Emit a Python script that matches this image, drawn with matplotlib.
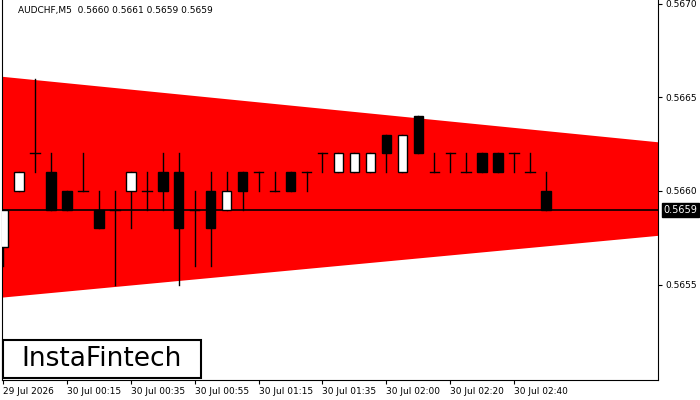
import matplotlib
matplotlib.use("Agg")
import matplotlib.pyplot as plt
from matplotlib.patches import Rectangle, Polygon

opens  = [0.5657,0.5660,0.5662,0.5661,0.5660,0.5660,0.5659,0.5659,0.5660,0.5660,0.5661,0.5661,0.5659,0.5660,0.5659,0.5661,0.5661,0.5660,0.5661,0.5661,0.5662,
          0.5661,0.5661,0.5661,0.5663,0.5661,0.5664,0.5661,0.5662,0.5661,0.5662,0.5662,0.5662,0.5661,0.5660]
closes = [0.5659,0.5661,0.5662,0.5659,0.5659,0.5660,0.5658,0.5659,0.5661,0.5660,0.5660,0.5658,0.5659,0.5658,0.5660,0.5660,0.5661,0.5660,0.5660,0.5661,0.5662,
          0.5662,0.5662,0.5662,0.5662,0.5663,0.5662,0.5661,0.5662,0.5661,0.5661,0.5661,0.5662,0.5661,0.5659]
highs  = [0.5659,0.5661,0.5666,0.5662,0.5660,0.5662,0.5660,0.5660,0.5661,0.5661,0.5662,0.5662,0.5660,0.5661,0.5661,0.5661,0.5661,0.5661,0.5661,0.5661,0.5662,
          0.5662,0.5662,0.5662,0.5663,0.5663,0.5664,0.5662,0.5662,0.5662,0.5662,0.5662,0.5662,0.5662,0.5661]
lows   = [0.5656,0.5660,0.5661,0.5659,0.5659,0.5660,0.5658,0.5655,0.5658,0.5659,0.5659,0.5655,0.5656,0.5656,0.5659,0.5659,0.5660,0.5660,0.5660,0.5660,0.5661,
          0.5661,0.5661,0.5661,0.5661,0.5661,0.5662,0.5661,0.5661,0.5661,0.5661,0.5661,0.5661,0.5661,0.5659]
tri_x = [-0.06, 41.0]
tri_upper = [0.56661, 0.56626]
tri_lower = [0.56543, 0.56576]
tick_idx = [0, 4, 8, 12, 16, 20, 24, 28, 32]
tick_labels = ["29 Jul 2026","30 Jul 00:15","30 Jul 00:35","30 Jul 00:55","30 Jul 01:15",
               "30 Jul 01:35","30 Jul 02:00","30 Jul 02:20","30 Jul 02:40"]
yticks = [0.5655, 0.5660, 0.5665, 0.5670]
last = 0.5659

fig = plt.figure(figsize=(7, 4), dpi=100)
ax = fig.add_axes([2/700, 20/400, 656/700, 380/400])
ax.set_xlim(tri_x[0], tri_x[1])
ax.set_ylim(0.56499, 0.56702)

ax.add_patch(Polygon([(tri_x[0], tri_upper[0]), (tri_x[1], tri_upper[1]),
                      (tri_x[1], tri_lower[1]), (tri_x[0], tri_lower[0])],
                     closed=True, facecolor="#ff0000", edgecolor="none", zorder=1))
ax.axhline(last, color="black", lw=1.2, zorder=2)

w = 0.6
for i, (o, c, h, l) in enumerate(zip(opens, closes, highs, lows)):
    ax.plot([i, i], [l, h], color="black", lw=1, zorder=3)
    if o == c:
        ax.plot([i - w/2, i + w/2], [o, o], color="black", lw=1, zorder=3)
    else:
        fc = "white" if c > o else "black"
        ax.add_patch(Rectangle((i - w/2, min(o, c)), w, abs(c - o), facecolor=fc,
                               edgecolor="black", lw=1, zorder=4))

ax.yaxis.tick_right()
ax.set_yticks(yticks)
ax.set_yticklabels([f"{v:.4f}" for v in yticks], fontsize=6.5)
ax.set_xticks(tick_idx)
ax.set_xticklabels(tick_labels, fontsize=6.5, ha="left")
ax.tick_params(axis="x", length=3, pad=2)
ax.tick_params(axis="y", length=3, pad=2)
ax.spines["top"].set_visible(False)

ax.annotate(f"{last:.4f}", xy=(1, last), xycoords=("axes fraction", "data"),
            xytext=(4, 0), textcoords="offset points", fontsize=7, color="white",
            va="center", ha="left",
            bbox=dict(boxstyle="square,pad=0.2", fc="black", ec="black"))

fig.text(18/700, 1 - 10/400, "AUDCHF,M5  0.5660 0.5661 0.5659 0.5659", fontsize=6.5, va="center")
fig.patches.append(Rectangle((3/700, 1 - 378/400), 198/700, 38/400, transform=fig.transFigure,
                             facecolor="white", edgecolor="black", lw=1.5, zorder=5))
fig.text(102/700, 1 - 359/400, "InstaFintech", fontsize=19, va="center", ha="center", zorder=6)

fig.savefig("out.png", dpi=100)
